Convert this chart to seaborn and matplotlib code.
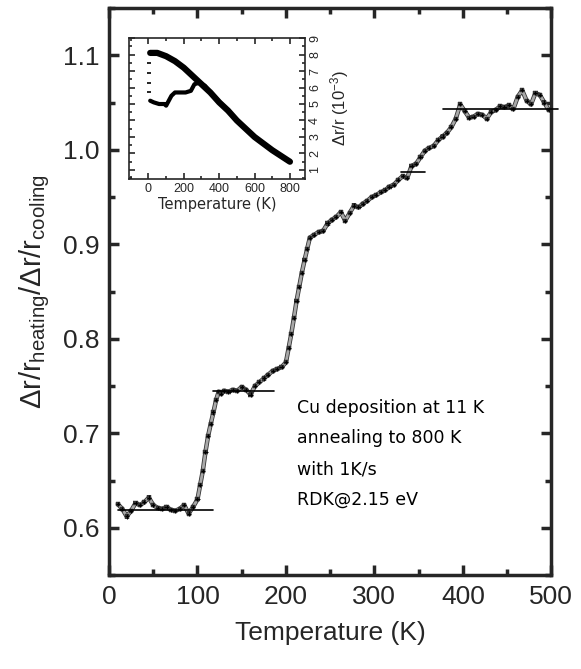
import numpy as np
import pandas as pd
import matplotlib
matplotlib.use('Agg')
import matplotlib.pyplot as plt
import matplotlib.patheffects as pe
from matplotlib.ticker import MultipleLocator
import seaborn as sns

# main curve: ratio heating / cooling vs temperature
temp = [10, 15, 20, 25, 30, 35, 40, 45, 50, 55, 60, 65, 70, 75, 80, 85, 90, 95,
        100, 103, 106, 109, 112, 115, 118, 121, 124, 127, 130, 135, 140, 145, 150,
        155, 160, 165, 170, 175, 180, 185, 190, 195, 200, 203, 206, 209, 212, 215,
        218, 221, 224, 227, 232, 237, 242, 247, 252, 257, 262, 267, 272, 277, 282,
        287, 292, 297, 302, 307, 312, 317, 322, 327, 332, 337, 342, 347, 352, 357,
        362, 367, 372, 377, 382, 387, 392, 397, 402, 407, 412, 417, 422, 427, 432,
        437, 442, 447, 452, 457, 462, 467, 472, 477, 482, 487, 492, 497]
ratio = [0.625, 0.620, 0.612, 0.618, 0.626, 0.624, 0.627, 0.632, 0.624, 0.621,
         0.620, 0.622, 0.619, 0.618, 0.620, 0.624, 0.615, 0.622, 0.630, 0.645,
         0.660, 0.680, 0.697, 0.710, 0.722, 0.735, 0.744, 0.742, 0.745, 0.744,
         0.746, 0.745, 0.749, 0.746, 0.741, 0.750, 0.754, 0.758, 0.762, 0.766,
         0.768, 0.770, 0.775, 0.790, 0.805, 0.822, 0.840, 0.855, 0.870, 0.883,
         0.895, 0.907, 0.910, 0.913, 0.914, 0.922, 0.926, 0.929, 0.934, 0.925,
         0.933, 0.941, 0.939, 0.943, 0.946, 0.950, 0.952, 0.955, 0.957, 0.961,
         0.963, 0.968, 0.972, 0.970, 0.983, 0.985, 0.992, 0.999, 1.002, 1.004,
         1.010, 1.014, 1.018, 1.024, 1.033, 1.048, 1.041, 1.034, 1.035, 1.038,
         1.037, 1.033, 1.040, 1.042, 1.046, 1.045, 1.047, 1.043, 1.056, 1.063,
         1.052, 1.048, 1.060, 1.058, 1.050, 1.042]

# plateau guide lines (start T, end T, level)
plateau_start = [10, 117, 330, 377]
plateau_end = [117, 186, 357, 508]
plateau_level = [0.619, 0.745, 0.977, 1.043]

# inset: dr/r (1e-3) on cooling and heating
cool_T = [10, 50, 100, 150, 200, 250, 300, 350, 400, 450, 500, 550, 600, 650, 700, 750, 800]
cool_val = [8.1, 8.1, 7.9, 7.6, 7.2, 6.7, 6.2, 5.7, 5.1, 4.6, 4.0, 3.5, 3.0, 2.6, 2.2, 1.85, 1.5]
heat_T = [10, 30, 60, 90, 100, 110, 130, 150, 180, 210, 240, 260, 290, 320, 350,
          400, 450, 500, 550, 600, 650, 700, 750, 790]
heat_val = [5.2, 5.1, 5.0, 5.0, 4.9, 5.1, 5.5, 5.7, 5.7, 5.7, 5.8, 6.2, 6.3, 6.1, 5.7,
            5.15, 4.6, 4.0, 3.5, 3.0, 2.6, 2.2, 1.85, 1.55]
start_T = [5, 5, 5, 5]
start_val = [7.5, 6.9, 6.3, 5.7]

text_lines = ['Cu deposition at 11 K', 'annealing to 800 K', 'with 1K/s', 'RDK@2.15 eV']

sns.set_style('ticks')
plt.rcParams['font.family'] = ['Liberation Sans', 'DejaVu Sans']
plt.rcParams['mathtext.fontset'] = 'custom'
plt.rcParams['mathtext.rm'] = 'Liberation Sans'
plt.rcParams['mathtext.it'] = 'Liberation Sans'

fig = plt.figure(figsize=(5.81, 6.69), dpi=100)
ax = fig.add_axes([0.1876, 0.1405, 0.7614, 0.8475])

main_df = pd.DataFrame({'T': temp, 'ratio': ratio})
sns.lineplot(data=main_df, x='T', y='ratio', ax=ax, color='#a8a8a8', linewidth=2.0,
             marker='+', markersize=3, markeredgecolor='black', markeredgewidth=0.8,
             path_effects=[pe.withStroke(linewidth=3.2, foreground='#333333')])

for s, e, lv in zip(plateau_start, plateau_end, plateau_level):
    ax.plot([s, e], [lv, lv], color='black', lw=1.2, clip_on=False, zorder=3)

ax.set_xlim(0, 500)
ax.set_ylim(0.55, 1.15)
ax.xaxis.set_major_locator(MultipleLocator(100))
ax.xaxis.set_minor_locator(MultipleLocator(50))
ax.yaxis.set_major_locator(MultipleLocator(0.1))
ax.yaxis.set_minor_locator(MultipleLocator(0.05))
ax.tick_params(which='both', direction='in', top=True, right=True, width=2.5)
ax.tick_params(which='major', length=7, labelsize=19, pad=7)
ax.tick_params(which='minor', length=4)
for sp in ax.spines.values():
    sp.set_linewidth(2.5)
ax.set_xlabel('Temperature (K)', fontsize=19, labelpad=9)
ax.set_ylabel(r'$\Delta r/r_{\rm heating}/\Delta r/r_{\rm cooling}$', fontsize=21, labelpad=8)

for i, line in enumerate(text_lines):
    ax.text(213, 0.727 - i * 0.0325, line, fontsize=12.5, va='center', ha='left',
            family='DejaVu Sans', color='black')

# inset
ins = fig.add_axes([0.222, 0.7324, 0.3029, 0.2107])
cool_df = pd.DataFrame({'T': cool_T, 'val': cool_val})
heat_df = pd.DataFrame({'T': heat_T, 'val': heat_val})
sns.lineplot(data=cool_df, x='T', y='val', ax=ins, color='black', linewidth=4.5)
sns.lineplot(data=heat_df, x='T', y='val', ax=ins, color='black', linewidth=3)
ins.scatter(start_T, start_val, marker='_', color='black', s=12, linewidths=1.2)
ins.set_xlim(-110, 885)
ins.set_ylim(0.45, 9.0)
ins.xaxis.set_major_locator(MultipleLocator(200))
ins.xaxis.set_minor_locator(MultipleLocator(100))
ins.yaxis.set_major_locator(MultipleLocator(1))
ins.yaxis.set_minor_locator(MultipleLocator(0.5))
ins.tick_params(which='both', direction='in', top=True, left=True, right=True,
                labelleft=False, labelright=True, width=1.2)
ins.tick_params(which='major', length=4, labelsize=9, pad=3)
ins.tick_params(which='minor', length=2)
for lab in ins.get_yticklabels():
    lab.set_rotation(90)
    lab.set_va('center')
for sp in ins.spines.values():
    sp.set_linewidth(1.2)
ins.yaxis.set_label_position('right')
ins.set_xlabel('Temperature (K)', fontsize=10.5, labelpad=1, family='DejaVu Sans')
ins.set_ylabel(r'$\Delta r/r\ (10^{-3})$', fontsize=12, labelpad=5, rotation=90)

fig.savefig('out.png', dpi=100)
